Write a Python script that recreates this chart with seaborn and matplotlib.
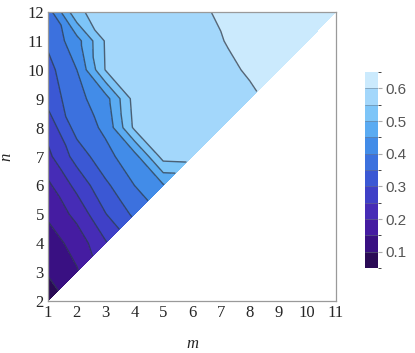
import numpy as np
import matplotlib
matplotlib.use("Agg")
import matplotlib.pyplot as plt
import matplotlib.tri as mtri
from matplotlib.colors import ListedColormap, BoundaryNorm
import seaborn as sns

# values, one list per n (m = 1 .. n-1)
n_values = list(range(2, 13))
z_rows = [
    [0.075],
    [0.104, 0.145],
    [0.125, 0.170, 0.245],
    [0.158, 0.215, 0.298, 0.360],
    [0.190, 0.265, 0.340, 0.400, 0.445],
    [0.238, 0.320, 0.385, 0.430, 0.570, 0.575],
    [0.268, 0.370, 0.410, 0.560, 0.578, 0.582, 0.585],
    [0.318, 0.385, 0.430, 0.570, 0.582, 0.585, 0.590, 0.595],
    [0.333, 0.400, 0.553, 0.576, 0.585, 0.588, 0.593, 0.603, 0.615],
    [0.360, 0.430, 0.556, 0.580, 0.588, 0.592, 0.599, 0.608, 0.618, 0.630],
    [0.375, 0.540, 0.575, 0.585, 0.590, 0.596, 0.602, 0.612, 0.622, 0.635, 0.648],
]
levels = np.round(np.arange(0.05, 0.651, 0.05), 2)
cbar_ticks = [0.1, 0.2, 0.3, 0.4, 0.5, 0.6]
anchor_colors = ["#2a0a55", "#3d128c", "#4a22ad", "#4038c2", "#3b55d3",
                 "#3c74df", "#4596ec", "#6bbcf6", "#9ad3fa", "#cbeafd"]

# build the point list
mm, nn, zz = [], [], []
index = {}
for n, row in zip(n_values, z_rows):
    for m, z in enumerate(row, start=1):
        index[(m, n)] = len(mm)
        mm.append(m)
        nn.append(n)
        zz.append(z)

# split every grid cell along the (m, n+1)-(m+1, n) diagonal
tris = []
for n in n_values[:-1]:
    for m in range(1, n):
        if (m + 1, n) in index:
            tris.append([index[(m, n)], index[(m + 1, n)], index[(m, n + 1)]])
            tris.append([index[(m + 1, n)], index[(m + 1, n + 1)], index[(m, n + 1)]])
        else:
            tris.append([index[(m, n)], index[(m + 1, n + 1)], index[(m, n + 1)]])
triang = mtri.Triangulation(mm, nn, tris)

sns.set_style("white")
band_colors = sns.blend_palette(anchor_colors, n_colors=len(levels) - 1)
cmap = ListedColormap(band_colors)
norm = BoundaryNorm(levels, cmap.N)

fig = plt.figure(figsize=(4.15, 3.53), dpi=100)
ax = fig.add_axes([0.1157, 0.1473, 0.694, 0.8187])
cf = ax.tricontourf(triang, zz, levels=levels, cmap=cmap, norm=norm)
ax.tricontour(triang, zz, levels=levels[1:-1], colors="#2c3848", linewidths=1.0, alpha=0.75)

ax.set_xlim(1, 11)
ax.set_ylim(2, 12)
ax.set_xticks(range(1, 12))
ax.set_yticks(range(2, 13))
ax.tick_params(direction="in", length=3, color="#999999", width=0.8,
               labelsize=12, pad=3)
for lab in ax.get_xticklabels() + ax.get_yticklabels():
    lab.set_family("Liberation Serif")
for sp in ax.spines.values():
    sp.set_color("#9a9a9a")
    sp.set_linewidth(0.9)
ax.set_xlabel("m", family="Liberation Serif", style="italic", fontsize=12, labelpad=11)
ax.set_ylabel("n", family="Liberation Serif", style="italic", fontsize=12, labelpad=9)

cax = fig.add_axes([0.8795, 0.2408, 0.0313, 0.5552])
cb = fig.colorbar(cf, cax=cax, ticks=cbar_ticks)
cb.outline.set_visible(False)
cb.ax.tick_params(length=3, color="#aaaaaa", labelsize=11, labelcolor="#555555", pad=2)
cb.ax.set_yticklabels([f"{t:.1f}" for t in cbar_ticks], family="Liberation Sans")
for y in levels[1:-1]:
    cb.ax.axhline(y, color="#6a7a8a", lw=0.6, alpha=0.6)

fig.savefig("out.png", dpi=100)
